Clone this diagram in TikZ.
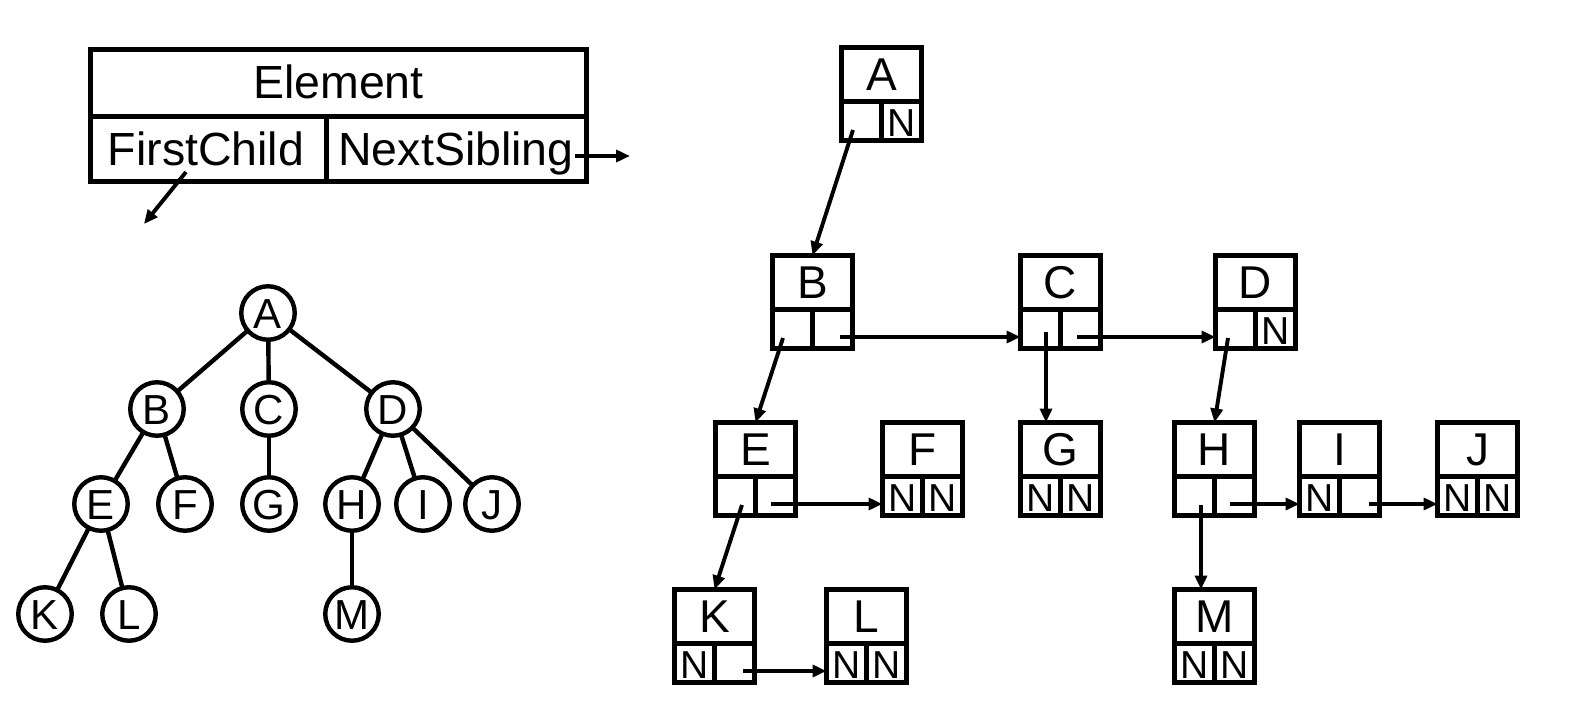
\documentclass[tikz,border=0pt]{standalone}
\usepackage{fontspec}
\setmainfont{Liberation Sans}
\usetikzlibrary{arrows.meta,calc}
\newcommand\lbox[6]{%
  \node[lbox,anchor=north west] (#1) at ({#2+2.5},{#3+2.5}) {};
  \draw[boxln] ({#2+2.5},{#3+56}) -- ({#2+82.5},{#3+56});
  \draw[boxln] ({#2+42.5},{#3+56}) -- ({#2+42.5},{#3+95.5});
  \node[ltr] (#1x) at ({#2+42.5},{#3+29}) {#4};
  \if\relax\detokenize{#5}\relax\else\node[nltr] (#1l) at ({#2+22.5},{#3+77}) {#5};\fi
  \if\relax\detokenize{#6}\relax\else\node[nltr] (#1r) at ({#2+63},{#3+77}) {#6};\fi
}
\begin{document}
\begin{tikzpicture}[x=1pt,y=-1pt,
  boxln/.style={line width=5pt},
  lbox/.style={draw,line width=5pt,rectangle,inner sep=0pt,outer sep=0pt,minimum width=80pt,minimum height=93pt},
  ltr/.style={font=\fontsize{46}{50}\selectfont,inner sep=0pt,text height=33pt,text depth=0pt},
  nltr/.style={font=\fontsize{39}{42}\selectfont,inner sep=0pt,text height=28pt,text depth=0pt},
  tnode/.style={draw,circle,line width=4.4pt,minimum size=53.5pt,inner sep=0pt,outer sep=0pt,font=\fontsize{42}{44}\selectfont,text height=30pt,text depth=0pt},
  tedge/.style={line width=4.4pt},
  ptr/.style={line width=3.9pt,-{Triangle[length=14pt,width=12pt]}},
  etext/.style={font=\fontsize{46.5}{50}\selectfont,inner sep=0pt,text height=33pt,text depth=0pt}
]
\useasboundingbox (0,0) rectangle (1574,728);

% Element legend
\node[draw,line width=5pt,inner sep=0pt,outer sep=0pt,minimum width=496pt,minimum height=132pt] (elem) at (338.5,115.5) {};
\draw[boxln] (90.5,116) -- (586.5,116);
\draw[boxln] (326,116) -- (326,181.5);
\node[etext] (elemt) at (338.5,82) {Element};
\node[etext] (fc) at (206,149) {FirstChild};
\node[etext] (ns) at (456,149) {NextSibling};
\coordinate (fcs) at (186,172);
\coordinate (fce) at (144,224);
\coordinate (nss) at (575,156);
\coordinate (nse) at (630,156);
\draw[ptr] (fcs) -- (fce);
\draw[ptr] (nss) -- (nse);

% Tree
\node[tnode] (tA) at (268,313) {A};
\node[tnode] (tB) at (157,409) {B};
\node[tnode] (tC) at (269,409) {C};
\node[tnode] (tD) at (393,409) {D};
\node[tnode] (tE) at (101,504) {E};
\node[tnode] (tF) at (185,504) {F};
\node[tnode] (tG) at (269,504) {G};
\node[tnode] (tH) at (352,504) {H};
\node[tnode] (tI) at (423,504) {I};
\node[tnode] (tJ) at (492,504) {J};
\node[tnode] (tK) at (45,614) {K};
\node[tnode] (tL) at (129,614) {L};
\node[tnode] (tM) at (352,614) {M};
\draw[tedge] (tA) -- (tB);
\draw[tedge] (tA) -- (tC);
\draw[tedge] (tA) -- (tD);
\draw[tedge] (tB) -- (tE);
\draw[tedge] (tB) -- (tF);
\draw[tedge] (tC) -- (tG);
\draw[tedge] (tD) -- (tH);
\draw[tedge] (tD) -- (tI);
\draw[tedge] (tD) -- (tJ);
\draw[tedge] (tE) -- (tK);
\draw[tedge] (tE) -- (tL);
\draw[tedge] (tH) -- (tM);

% Linked representation
\lbox{A}{839}{45}{A}{}{N}
\lbox{B}{770}{253}{B}{}{}
\lbox{C}{1018}{253}{C}{}{}
\lbox{D}{1213}{253}{D}{}{N}
\lbox{E}{713}{420}{E}{}{}
\lbox{F}{880}{420}{F}{N}{N}
\lbox{G}{1018}{420}{G}{N}{N}
\lbox{H}{1172}{420}{H}{}{}
\lbox{I}{1297}{420}{I}{N}{}
\lbox{J}{1435}{420}{J}{N}{N}
\lbox{K}{672}{587}{K}{N}{}
\lbox{L}{824}{587}{L}{N}{N}
\lbox{M}{1172}{587}{M}{N}{N}

\coordinate (Afc) at (853,130);
\coordinate (Bfc) at (783,338);
\coordinate (Bns) at (840,337);
\coordinate (Cfc) at (1046,332);
\coordinate (Cns) at (1077,337);
\coordinate (Dfc) at (1228,338);
\coordinate (Efc) at (742,505);
\coordinate (Ens) at (771,504);
\coordinate (Hfc) at (1201,505);
\coordinate (Hns) at (1230,504);
\coordinate (Ins) at (1369,504);
\coordinate (Kns) at (743,671);

\draw[ptr] (Afc) -- (B.north);
\draw[ptr] (Bfc) -- (E.north);
\draw[ptr] (Bns) -- (Bns -| C.west);
\draw[ptr] (Cfc) -- (Cfc |- G.north);
\draw[ptr] (Cns) -- (Cns -| D.west);
\draw[ptr] (Dfc) -- (H.north);
\draw[ptr] (Efc) -- (K.north);
\draw[ptr] (Ens) -- (Ens -| F.west);
\draw[ptr] (Hfc) -- (Hfc |- M.north);
\draw[ptr] (Hns) -- (Hns -| I.west);
\draw[ptr] (Ins) -- (Ins -| J.west);
\draw[ptr] (Kns) -- (Kns -| L.west);
\end{tikzpicture}
\end{document}
